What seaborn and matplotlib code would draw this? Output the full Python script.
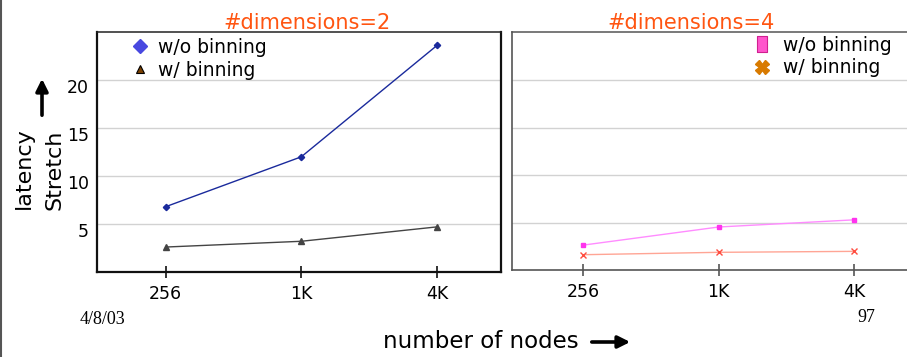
import matplotlib
matplotlib.use("Agg")
import matplotlib.pyplot as plt
import matplotlib.transforms as mtransforms
from matplotlib.lines import Line2D
from matplotlib.patches import FancyArrowPatch
import seaborn as sns
import pandas as pd

# Node counts and stretch values per configuration
nodes = ["256", "1K", "4K"]
d2_without = [6.8, 12.0, 23.6]
d2_with = [2.6, 3.2, 4.7]
d4_without = [2.7, 4.6, 5.35]
d4_with = [1.7, 1.95, 2.05]
yticks = [5, 10, 15, 20]

sns.set_style("white")
plt.rcParams["font.family"] = ["DejaVu Sans"]
plt.rcParams["text.color"] = "black"
plt.rcParams["axes.labelcolor"] = "black"
plt.rcParams["xtick.color"] = "black"
plt.rcParams["ytick.color"] = "black"

W, H = 907, 357
fig = plt.figure(figsize=(W / 100, H / 100), dpi=100)


def px_axes(x0, x1, ytop, ybot):
    return fig.add_axes([x0 / W, (H - ybot) / H, (x1 - x0) / W, (ybot - ytop) / H])


axL = px_axes(97, 501, 32, 272)
axR = px_axes(512, 920, 32, 270)

title_color = "#ff5511"


def draw_series(ax, vals, line_color, marker, msize, mcolor):
    df = pd.DataFrame({"nodes": nodes, "stretch": vals})
    sns.pointplot(data=df, x="nodes", y="stretch", color=line_color,
                  marker=marker, markersize=msize, linewidth=1.0,
                  markerfacecolor=mcolor, markeredgecolor=mcolor,
                  markeredgewidth=1.0, errorbar=None, ax=ax)


# 2 dimensions
draw_series(axL, d2_without, "#1a2a9c", "D", 3.2, "#1a2a9c")
draw_series(axL, d2_with, "#444444", "^", 4.0, "#444444")
# 4 dimensions
draw_series(axR, d4_without, "#ff8cff", "s", 3.5, "#ff33ee")
draw_series(axR, d4_with, "#ffa595", "x", 4.0, "#ff4d40")

for ax, (xl, yl), edge, lw_main in [
    (axL, ((-0.506, 2.472), (0, 25)), "#111111", 1.6),
    (axR, ((-0.523, 2.483), (0.1, 25)), "#555555", 1.2),
]:
    ax.set_xlim(*xl)
    ax.set_ylim(*yl)
    ax.set_xlabel("")
    ax.set_ylabel("")
    ax.set_yticks(yticks)
    ax.yaxis.grid(True, color="#d2d2d2", linewidth=1.0)
    ax.xaxis.grid(False)
    ax.set_axisbelow(True)
    for s in ax.spines.values():
        s.set_visible(True)
        s.set_color(edge)
        s.set_linewidth(1.1)
    ax.spines["left"].set_linewidth(lw_main)
    ax.spines["bottom"].set_linewidth(lw_main)
    ax.tick_params(axis="x", bottom=True, direction="inout", length=9, width=1.2,
                   color=edge, labelsize=12.5, pad=5, labelcolor="black")
    ax.tick_params(axis="y", left=False, length=0, labelsize=12.5, pad=6,
                   labelcolor="black")

axL.spines["right"].set_linewidth(1.6)
axL.spines["top"].set_color("#222222")
axR.tick_params(axis="y", labelleft=False)

# numeric labels sit a little below their gridlines
offset = mtransforms.ScaledTranslation(0, -6 / 100, fig.dpi_scale_trans)
for lab in axL.get_yticklabels():
    lab.set_transform(lab.get_transform() + offset)

axL.set_title("#dimensions=2", color=title_color, fontsize=15, pad=2, x=0.52)
axR.set_title("#dimensions=4", color=title_color, fontsize=15, pad=2,
              x=(691 - 512) / 408)

# legends
hL = [Line2D([], [], linestyle="none", marker="D", markersize=7,
             markerfacecolor="#4848e0", markeredgecolor="#4848e0"),
      Line2D([], [], linestyle="none", marker="^", markersize=6,
             markerfacecolor="#7b4000", markeredgecolor="black", markeredgewidth=0.8)]
axL.legend(hL, ["w/o binning", "w/ binning"], loc="upper left",
           bbox_to_anchor=(0.083, 0.975), frameon=False, fontsize=13.5,
           borderpad=0, borderaxespad=0, handlelength=1.0, handletextpad=0.45,
           labelspacing=0.2, labelcolor="black")

rect = [(-0.3, -0.5), (0.3, -0.5), (0.3, 0.5), (-0.3, 0.5), (-0.3, -0.5)]
hR = [Line2D([], [], linestyle="none", marker=rect, markersize=12,
             markerfacecolor="#ff55cc", markeredgecolor="#d02090", markeredgewidth=0.8),
      Line2D([], [], linestyle="none", marker="X", markersize=10,
             markerfacecolor="#d87a00", markeredgecolor="#d87a00")]
axR.legend(hR, ["w/o binning", "w/ binning"], loc="upper left",
           bbox_to_anchor=(0.59, 0.985), frameon=False, fontsize=13.5,
           borderpad=0, borderaxespad=0, handlelength=1.0, handletextpad=0.6,
           labelspacing=0.2, labelcolor="black")

# shared axis captions
fig.text(24 / W, 1 - 168 / H, "latency", rotation=90, fontsize=16,
         ha="center", va="center")
fig.text(55 / W, 1 - 170 / H, "Stretch", rotation=90, fontsize=16,
         ha="center", va="center")
fig.add_artist(FancyArrowPatch(
    (42 / W, 1 - 118 / H), (42 / W, 1 - 76 / H), transform=fig.transFigure,
    arrowstyle="-|>", mutation_scale=18, linewidth=2.6, color="black"))

fig.text(481 / W, 1 - 342 / H, "number of nodes", fontsize=16.5,
         ha="center", va="center")
fig.add_artist(FancyArrowPatch(
    (589 / W, 1 - 342 / H), (633 / W, 1 - 342 / H), transform=fig.transFigure,
    arrowstyle="-|>", mutation_scale=18, linewidth=2.6, color="black"))

fig.text(80 / W, 1 - 320 / H, "4/8/03", fontsize=13,
         family=["Liberation Serif"], ha="left", va="center")
fig.text(866 / W, 1 - 318 / H, "97", fontsize=13,
         family=["Liberation Serif"], ha="center", va="center")

fig.add_artist(Line2D([1 / W, 1 / W], [0, 1], transform=fig.transFigure,
                      color="#555555", linewidth=1.5))

fig.savefig("out.png", dpi=100)
